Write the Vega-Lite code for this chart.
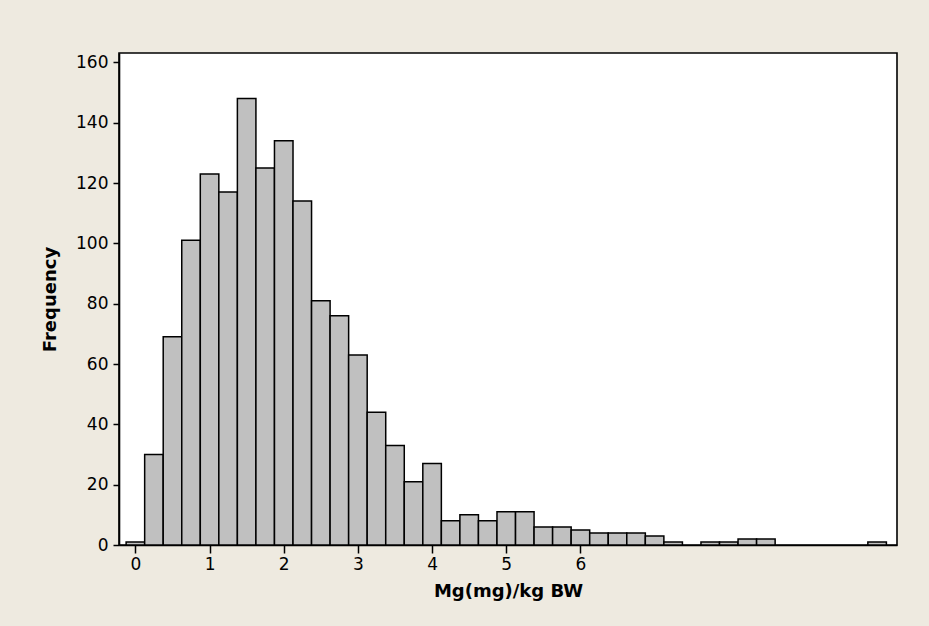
{
  "$schema": "https://vega.github.io/schema/vega-lite/v6.json",
  "width": 778,
  "height": 492,
  "autosize": {"type": "none"},
  "padding": {"left": 119, "top": 53, "right": 32, "bottom": 81},
  "background": "#EEEAE0",
  "config": {
    "view": {"fill": "#FFFFFF", "stroke": "#000000", "strokeWidth": 1.6},
    "axis": {
      "labelFont": "DejaVu Sans",
      "titleFont": "DejaVu Sans",
      "labelFontSize": 17,
      "titleFontSize": 18,
      "titleFontWeight": "bold",
      "labelColor": "#000000",
      "titleColor": "#000000",
      "domainColor": "#000000",
      "tickColor": "#000000",
      "domainWidth": 1.6,
      "tickWidth": 1.5,
      "grid": false
    }
  },
  "data": {
    "values": [
      {"bin_start": -0.125, "bin_end": 0.125, "count": 1},
      {"bin_start": 0.125, "bin_end": 0.375, "count": 30},
      {"bin_start": 0.375, "bin_end": 0.625, "count": 69},
      {"bin_start": 0.625, "bin_end": 0.875, "count": 101},
      {"bin_start": 0.875, "bin_end": 1.125, "count": 123},
      {"bin_start": 1.125, "bin_end": 1.375, "count": 117},
      {"bin_start": 1.375, "bin_end": 1.625, "count": 148},
      {"bin_start": 1.625, "bin_end": 1.875, "count": 125},
      {"bin_start": 1.875, "bin_end": 2.125, "count": 134},
      {"bin_start": 2.125, "bin_end": 2.375, "count": 114},
      {"bin_start": 2.375, "bin_end": 2.625, "count": 81},
      {"bin_start": 2.625, "bin_end": 2.875, "count": 76},
      {"bin_start": 2.875, "bin_end": 3.125, "count": 63},
      {"bin_start": 3.125, "bin_end": 3.375, "count": 44},
      {"bin_start": 3.375, "bin_end": 3.625, "count": 33},
      {"bin_start": 3.625, "bin_end": 3.875, "count": 21},
      {"bin_start": 3.875, "bin_end": 4.125, "count": 27},
      {"bin_start": 4.125, "bin_end": 4.375, "count": 8},
      {"bin_start": 4.375, "bin_end": 4.625, "count": 10},
      {"bin_start": 4.625, "bin_end": 4.875, "count": 8},
      {"bin_start": 4.875, "bin_end": 5.125, "count": 11},
      {"bin_start": 5.125, "bin_end": 5.375, "count": 11},
      {"bin_start": 5.375, "bin_end": 5.625, "count": 6},
      {"bin_start": 5.625, "bin_end": 5.875, "count": 6},
      {"bin_start": 5.875, "bin_end": 6.125, "count": 5},
      {"bin_start": 6.125, "bin_end": 6.375, "count": 4},
      {"bin_start": 6.375, "bin_end": 6.625, "count": 4},
      {"bin_start": 6.625, "bin_end": 6.875, "count": 4},
      {"bin_start": 6.875, "bin_end": 7.125, "count": 3},
      {"bin_start": 7.125, "bin_end": 7.375, "count": 1},
      {"bin_start": 7.625, "bin_end": 7.875, "count": 1},
      {"bin_start": 7.875, "bin_end": 8.125, "count": 1},
      {"bin_start": 8.125, "bin_end": 8.375, "count": 2},
      {"bin_start": 8.375, "bin_end": 8.625, "count": 2},
      {"bin_start": 9.875, "bin_end": 10.125, "count": 1}
    ]
  },
  "mark": {"type": "rect", "fill": "#C0C0C0", "stroke": "#000000", "strokeWidth": 1.5},
  "encoding": {
    "x": {
      "field": "bin_start",
      "type": "quantitative",
      "scale": {"domain": [-0.221, 10.268], "nice": false, "zero": false},
      "axis": {
        "title": "Mg(mg)/kg BW",
        "values": [0, 1, 2, 3, 4, 5, 6],
        "tickSize": 8,
        "labelPadding": 3,
        "titlePadding": 10,
        "labelFlush": false
      }
    },
    "x2": {"field": "bin_end"},
    "y": {
      "field": "count",
      "type": "quantitative",
      "scale": {"domain": [0, 163.1], "nice": false},
      "axis": {
        "title": "Frequency",
        "values": [0, 20, 40, 60, 80, 100, 120, 140, 160],
        "tickSize": 6,
        "labelPadding": 5,
        "titlePadding": 16,
        "labelFlush": false
      }
    },
    "y2": {"datum": 0}
  }
}
